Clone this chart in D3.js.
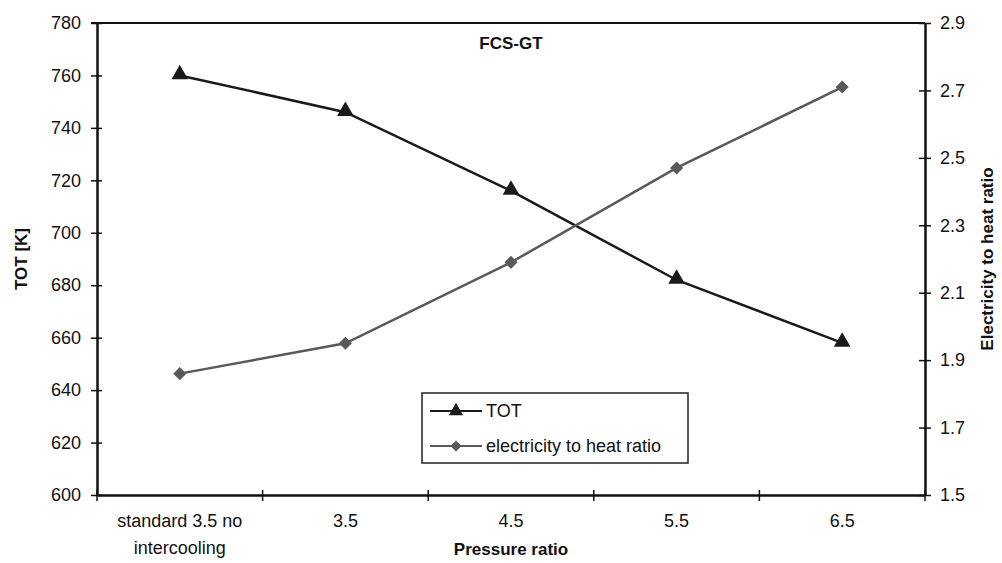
<!DOCTYPE html>
<html>
<head>
<meta charset="utf-8">
<script src="https://cdn.jsdelivr.net/npm/d3@7"></script>
<style>
  body { margin: 0; background: #fff; }
  text { font-family: "Liberation Sans", Arial, sans-serif; fill: #111; }
</style>
</head>
<body>
<div id="chart"></div>
<script>
const categories = ['standard 3.5 no intercooling', '3.5', '4.5', '5.5', '6.5'];
const totValues = [760, 746, 716, 682, 658];
const ratioValues = [1.86, 1.95, 2.19, 2.47, 2.71];
const leftTicks = [600, 620, 640, 660, 680, 700, 720, 740, 760, 780];
const rightTicks = [1.5, 1.7, 1.9, 2.1, 2.3, 2.5, 2.7, 2.9];

const width = 1002;
const height = 563;
const margin = { top: 23, right: 77, bottom: 68, left: 97 };

const svg = d3.select('#chart')
    .append('svg')
    .attr('width', width)
    .attr('height', height);

const x = d3.scaleBand()
    .domain(categories)
    .range([margin.left, width - margin.right]);

const yLeft = d3.scaleLinear()
    .domain([600, 780])
    .range([height - margin.bottom, margin.top]);

const yRight = d3.scaleLinear()
    .domain([1.5, 2.9])
    .range([height - margin.bottom, margin.top]);

// top border
svg.append('line')
    .attr('x1', margin.left - 6).attr('x2', width - margin.right)
    .attr('y1', margin.top).attr('y2', margin.top)
    .attr('stroke', '#111').attr('stroke-width', 2);

// left axis
const leftAxis = svg.append('g')
    .attr('transform', `translate(${margin.left},0)`)
    .call(d3.axisLeft(yLeft).tickValues(leftTicks).tickSize(0).tickPadding(16));
leftAxis.select('.domain').attr('stroke', '#111').attr('stroke-width', 2.5);
leftAxis.selectAll('.tick').append('line')
    .attr('x1', -6).attr('x2', 5).attr('stroke', '#111').attr('stroke-width', 1.5);
leftAxis.selectAll('text').style('font-size', '18px');

// right axis
const rightAxis = svg.append('g')
    .attr('transform', `translate(${width - margin.right},0)`)
    .call(d3.axisRight(yRight).tickValues(rightTicks).tickFormat(d3.format('.1f')).tickSize(0).tickPadding(15));
rightAxis.select('.domain').attr('stroke', '#111').attr('stroke-width', 2.5);
rightAxis.selectAll('.tick').append('line')
    .attr('x1', -6).attr('x2', 6).attr('stroke', '#111').attr('stroke-width', 1.5);
rightAxis.selectAll('text').style('font-size', '18px');

// bottom axis
const bottomAxis = svg.append('g')
    .attr('transform', `translate(0,${height - margin.bottom})`)
    .call(d3.axisBottom(x).tickSize(0).tickFormat(''));
bottomAxis.select('.domain').attr('stroke', '#111').attr('stroke-width', 2.5);

const boundaries = d3.range(categories.length + 1)
    .map(i => margin.left + i * x.bandwidth());
bottomAxis.selectAll('.sep')
    .data(boundaries)
    .enter()
    .append('line')
    .attr('class', 'sep')
    .attr('x1', d => d).attr('x2', d => d)
    .attr('y1', -5).attr('y2', 6)
    .attr('stroke', '#111').attr('stroke-width', 1.5);

// category labels, wrapped for the first one
const catLines = d => d === categories[0] ? ['standard 3.5 no', 'intercooling'] : [d];
const catLabel = svg.append('g').selectAll('text')
    .data(categories)
    .enter()
    .append('text')
    .attr('text-anchor', 'middle')
    .style('font-size', '18px')
    .attr('transform', d => `translate(${x(d) + x.bandwidth() / 2},${height - margin.bottom + 32})`);
catLabel.selectAll('tspan')
    .data(d => catLines(d))
    .enter()
    .append('tspan')
    .attr('x', 0)
    .attr('dy', (d, i) => i === 0 ? 0 : 27)
    .text(d => d);

// titles
svg.append('text')
    .attr('x', 511).attr('y', 49)
    .attr('text-anchor', 'middle')
    .style('font-size', '17px').style('font-weight', 'bold')
    .text('FCS-GT');

svg.append('text')
    .attr('x', (margin.left + width - margin.right) / 2).attr('y', 555)
    .attr('text-anchor', 'middle')
    .style('font-size', '17px').style('font-weight', 'bold')
    .text('Pressure ratio');

svg.append('text')
    .attr('transform', `translate(27,${(margin.top + height - margin.bottom) / 2}) rotate(-90)`)
    .attr('text-anchor', 'middle')
    .style('font-size', '17px').style('font-weight', 'bold')
    .text('TOT [K]');

svg.append('text')
    .attr('transform', `translate(993,${(margin.top + height - margin.bottom) / 2}) rotate(-90)`)
    .attr('text-anchor', 'middle')
    .style('font-size', '17px').style('font-weight', 'bold')
    .text('Electricity to heat ratio');

const cx = d => x(d) + x.bandwidth() / 2;
const totColor = '#1a1a1a';
const ratioColor = '#595959';

// TOT line
svg.append('path')
    .datum(totValues)
    .attr('fill', 'none')
    .attr('stroke', totColor)
    .attr('stroke-width', 2.5)
    .attr('d', d3.line().x((d, i) => cx(categories[i])).y(d => yLeft(d)));

svg.selectAll('.tri')
    .data(totValues)
    .enter()
    .append('path')
    .attr('class', 'tri')
    .attr('d', d3.symbol(d3.symbolTriangle, 120))
    .attr('fill', totColor)
    .attr('transform', (d, i) => `translate(${cx(categories[i])},${yLeft(d) - 1})`);

// ratio line
svg.append('path')
    .datum(ratioValues)
    .attr('fill', 'none')
    .attr('stroke', ratioColor)
    .attr('stroke-width', 2.5)
    .attr('d', d3.line().x((d, i) => cx(categories[i])).y(d => yRight(d)));

// diamonds: squares turned 45 degrees
svg.selectAll('.dia')
    .data(ratioValues)
    .enter()
    .append('path')
    .attr('class', 'dia')
    .attr('d', d3.symbol(d3.symbolSquare, 85))
    .attr('fill', ratioColor)
    .attr('transform', (d, i) => `translate(${cx(categories[i])},${yRight(d)}) rotate(45)`);

// legend
const legend = svg.append('g').attr('transform', 'translate(422,393)');
legend.append('rect')
    .attr('width', 266).attr('height', 70)
    .attr('fill', '#fff').attr('stroke', '#222').attr('stroke-width', 1.5);

const legendItems = [
    { label: 'TOT', color: totColor, symbol: d3.symbolTriangle, size: 90, rot: 0 },
    { label: 'electricity to heat ratio', color: ratioColor, symbol: d3.symbolSquare, size: 60, rot: 45 }
];

const item = legend.selectAll('.item')
    .data(legendItems)
    .enter()
    .append('g')
    .attr('class', 'item')
    .attr('transform', (d, i) => `translate(0,${18 + i * 35})`);

item.append('line')
    .attr('x1', 8).attr('x2', 60)
    .attr('stroke', d => d.color).attr('stroke-width', 2);
item.append('path')
    .attr('d', d => d3.symbol(d.symbol, d.size)())
    .attr('fill', d => d.color)
    .attr('transform', d => `translate(34,0) rotate(${d.rot})`);
item.append('text')
    .attr('x', 64).attr('dy', '0.35em')
    .style('font-size', '18px')
    .text(d => d.label);
</script>
</body>
</html>
